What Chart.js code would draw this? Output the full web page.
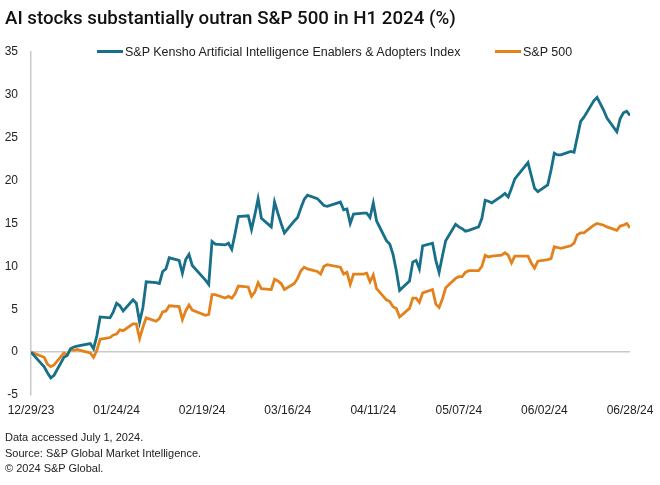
<!DOCTYPE html>
<html>
<head>
<meta charset="utf-8">
<script src="https://cdn.jsdelivr.net/npm/chart.js@4"></script>
<style>
  body { margin: 0; background: #fff; }
  #wrap { position: relative; width: 660px; height: 485px; font-family: "Liberation Sans", Arial, sans-serif; color: #222; }
  #chart { position: absolute; left: 0; top: 0; }
  #title { position: absolute; left: 5px; top: 7px; font: 500 18.7px Roboto, sans-serif; color: #111; white-space: nowrap; }
  .leg { position: absolute; top: 45px; font-size: 12.5px; color: #222; white-space: nowrap; }
  .leg i { display: inline-block; width: 26px; height: 3px; vertical-align: middle; margin-right: 2px; position: relative; top: -1px; }
  #notes { position: absolute; left: 5px; top: 430px; font-size: 11px; line-height: 15.5px; color: #222; }
</style>
</head>
<body>
<div id="wrap">
  <canvas id="chart" width="660" height="485"></canvas>
  <div id="title">AI stocks substantially outran S&amp;P 500 in H1 2024 (%)</div>
  <div class="leg" style="left:97px"><i style="background:#176f89"></i>S&amp;P Kensho Artificial Intelligence Enablers &amp; Adopters Index</div>
  <div class="leg" style="left:495px"><i style="background:#e3821c"></i>S&amp;P 500</div>
  <div id="notes">Data accessed July 1, 2024.<br>Source: S&amp;P Global Market Intelligence.<br>&copy; 2024 S&amp;P Global.</div>
</div>
<script>
// trading days
const dates = [
  "2023-12-29",
  "2024-01-02","2024-01-03","2024-01-04","2024-01-05","2024-01-08","2024-01-09","2024-01-10","2024-01-11","2024-01-12",
  "2024-01-16","2024-01-17","2024-01-18","2024-01-19","2024-01-22","2024-01-23","2024-01-24","2024-01-25","2024-01-26",
  "2024-01-29","2024-01-30","2024-01-31",
  "2024-02-01","2024-02-02","2024-02-05","2024-02-06","2024-02-07","2024-02-08","2024-02-09","2024-02-12","2024-02-13",
  "2024-02-14","2024-02-15","2024-02-16","2024-02-20","2024-02-21","2024-02-22","2024-02-23","2024-02-26","2024-02-27",
  "2024-02-28","2024-02-29",
  "2024-03-01","2024-03-04","2024-03-05","2024-03-06","2024-03-07","2024-03-08","2024-03-11","2024-03-12","2024-03-13",
  "2024-03-14","2024-03-15","2024-03-18","2024-03-19","2024-03-20","2024-03-21","2024-03-22","2024-03-25","2024-03-26",
  "2024-03-27","2024-03-28",
  "2024-04-01","2024-04-02","2024-04-03","2024-04-04","2024-04-05","2024-04-08","2024-04-09","2024-04-10","2024-04-11",
  "2024-04-12","2024-04-15","2024-04-16","2024-04-17","2024-04-18","2024-04-19","2024-04-22","2024-04-23","2024-04-24",
  "2024-04-25","2024-04-26","2024-04-29","2024-04-30",
  "2024-05-01","2024-05-02","2024-05-03","2024-05-06","2024-05-07","2024-05-08","2024-05-09","2024-05-10","2024-05-13",
  "2024-05-14","2024-05-15","2024-05-16","2024-05-17","2024-05-20","2024-05-21","2024-05-22","2024-05-23","2024-05-24",
  "2024-05-28","2024-05-29","2024-05-30","2024-05-31",
  "2024-06-03","2024-06-04","2024-06-05","2024-06-06","2024-06-07","2024-06-10","2024-06-11","2024-06-12","2024-06-13",
  "2024-06-14","2024-06-17","2024-06-18","2024-06-20","2024-06-21","2024-06-24","2024-06-25","2024-06-26","2024-06-27",
  "2024-06-28"
];

const aiIndex = [
  0,
  -1.7,-2.4,-3.0,-2.7, -0.6,-0.4,0.4,0.6,0.7, 1.0,0.4,1.9,4.1, 4.0,4.7,5.7,5.4,4.8, 6.1,5.7,3.5,
  5.2,8.2, 8.1,8.0,9.4,9.7,11.0, 10.7,9.2,10.8,11.4,10.1, 8.4,7.9,12.9,12.6, 12.5,12.7,12.0,13.8,
  15.8, 15.9,14.3,16.0,17.9,15.6, 14.6,17.5,16.2,15.0,13.9, 15.3,15.7,16.8,17.8,18.3, 17.9,17.5,17.1,17.0,
  17.5,16.6,16.7,15.0,16.1, 16.2,16.2,15.7,17.4,15.3, 13.0,12.6,11.4,9.5,7.2, 8.3,10.5,10.7,9.7,12.4, 12.7,10.7,
  9.3,11.2,13.0, 14.9,14.6,14.4,14.1,14.2, 14.6,15.6,17.7,17.6,17.4, 18.2,18.5,18.1,19.1,20.2, 22.1,20.6,19.1,18.7,
  19.5,21.2,23.2,23.0,23.0, 23.4,23.3,25.1,26.9,27.4, 29.3,29.7,28.2,27.3, 25.7,27.2,27.9,28.1,27.6
];

const sp500 = [
  0,
  -0.6,-1.4,-1.7,-1.5, -0.1,-0.3,0.3,0.2,0.3, -0.1,-0.6,0.2,1.5, 1.7,2.0,2.1,2.6,2.5, 3.3,3.3,1.6,
  2.9,4.0, 3.6,3.9,4.7,4.8,5.4, 5.3,3.8,4.8,5.5,4.9, 4.3,4.4,6.7,6.7, 6.3,6.5,6.3,6.8,
  7.7, 7.6,6.5,7.0,8.1,7.4, 7.3,8.5,8.3,8.0,7.3, 8.0,8.6,9.5,9.9,9.7, 9.4,9.1,10.0,10.2,
  9.9,9.1,9.3,7.9,9.1, 9.1,9.2,8.2,9.0,7.4, 6.1,5.9,5.3,5.1,4.1, 5.1,6.3,6.3,5.8,6.9, 7.3,5.6,
  5.2,6.2,7.5, 8.6,8.8,8.8,9.3,9.5, 9.5,10.0,11.3,11.1,11.2, 11.3,11.6,11.3,10.4,11.2, 11.2,10.4,9.8,10.6,
  10.8,10.9,12.3,12.2,12.1, 12.4,12.7,13.7,13.9,13.9, 14.8,15.0,14.8,14.6, 14.2,14.7,14.8,15.0,14.5
];

const tickLabels = ["12/29/23","01/24/24","02/19/24","03/16/24","04/11/24","05/07/24","06/02/24","06/28/24"];
const yTicks = [-5, 0, 5, 10, 15, 20, 25, 30, 35];

const DAY = 86400000;
const start = Date.UTC(2023, 11, 29);
function isoDay(s) {
  const p = s.split("-");
  return (Date.UTC(+p[0], +p[1] - 1, +p[2]) - start) / DAY;
}
function labelDay(s) {
  const p = s.split("/");
  return (Date.UTC(2000 + +p[2], +p[0] - 1, +p[1]) - start) / DAY;
}
const tickDays = tickLabels.map(labelDay);

const pts = vals => vals.map((v, i) => ({ x: isoDay(dates[i]), y: v }));

new Chart(document.getElementById("chart"), {
  type: 'line',
  data: {
    datasets: [
      { label: "S&P Kensho Artificial Intelligence Enablers & Adopters Index", data: pts(aiIndex),
        borderColor: "#176f89", borderWidth: 2.8, pointRadius: 0, tension: 0 },
      { label: "S&P 500", data: pts(sp500),
        borderColor: "#e3821c", borderWidth: 2.8, pointRadius: 0, tension: 0 }
    ]
  },
  options: {
    responsive: false,
    animation: false,
    layout: { padding: { top: 52, right: 30, bottom: 60, left: 0 } },
    plugins: { legend: { display: false }, tooltip: { enabled: false } },
    scales: {
      x: {
        type: 'linear',
        min: tickDays[0],
        max: tickDays[tickDays.length - 1],
        afterBuildTicks: s => { s.ticks = tickDays.map(v => ({ value: v })); },
        afterFit: s => { s.height = 30; },
        grid: { display: false },
        border: { display: false },
        ticks: {
          autoSkip: false, maxRotation: 0, padding: 0,
          color: "#222", font: { family: "Liberation Sans", size: 12 },
          callback: v => tickLabels[tickDays.indexOf(v)]
        }
      },
      y: {
        min: yTicks[0],
        max: yTicks[yTicks.length - 1],
        afterBuildTicks: s => { s.ticks = yTicks.map(v => ({ value: v })); },
        afterFit: s => { s.width = 31; },
        grid: {
          drawTicks: false,
          lineWidth: 1.5,
          color: c => c.tick && c.tick.value === 0 ? "#c9c9c9" : "rgba(0,0,0,0)"
        },
        border: { display: true, color: "#c9c9c9", width: 1.5 },
        ticks: { padding: 13, color: "#222", font: { family: "Liberation Sans", size: 12 } }
      }
    }
  }
});
</script>
</body>
</html>
